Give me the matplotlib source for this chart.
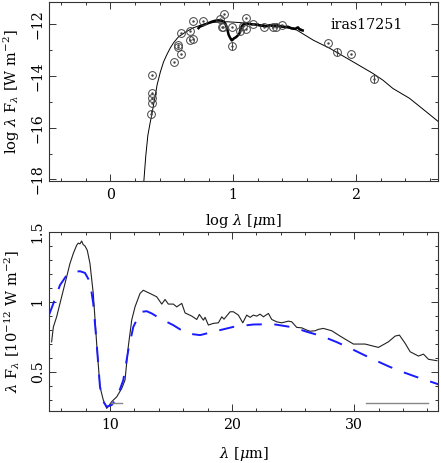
import numpy as np
import matplotlib
matplotlib.use('Agg')
import matplotlib.pyplot as plt
from matplotlib.ticker import MultipleLocator, FormatStrFormatter

plt.rcParams['font.family'] = 'DejaVu Serif'
plt.rcParams['mathtext.fontset'] = 'dejavuserif'
plt.rcParams['lines.scale_dashes'] = False

# photometry (log lambda [um], log lambda F_lambda [W m^-2])
phot_logl = [0.341, 0.341, 0.341, 0.341, 0.327, 0.521, 0.548, 0.548, 0.573, 0.573,
             0.646, 0.651, 0.670, 0.676, 0.754, 0.895, 0.921, 0.908, 0.916, 0.988,
             0.988, 1.105, 1.079, 1.057, 1.105, 1.160, 1.251, 1.327, 1.345, 1.395,
             1.773, 1.843, 1.955, 2.144]
phot_logf = [-13.96, -14.67, -14.84, -15.04, -15.46, -13.46, -12.80, -12.89, -13.16, -12.34,
             -12.26, -12.61, -12.58, -11.88, -11.86, -11.79, -11.60, -12.12, -12.09, -12.09,
             -12.85, -11.77, -12.05, -12.26, -12.19, -11.99, -12.10, -12.12, -12.12, -12.03,
             -12.71, -13.06, -13.15, -14.13]
# points drawn with a vertical bar through the circle
bar_logl = [0.327, 0.988, 1.843, 2.144]
bar_logf = [-15.46, -12.85, -13.06, -14.13]

# model SED
model_logl = [0.272, 0.288, 0.305, 0.322, 0.339, 0.352, 0.366, 0.380, 0.407, 0.433, 0.461,
              0.488, 0.515, 0.555, 0.596, 0.637, 0.677, 0.759, 0.85, 0.95, 1.05, 1.15,
              1.25, 1.35, 1.45, 1.517, 1.651, 1.787, 1.976, 2.138, 2.219, 2.300, 2.435,
              2.571, 2.68]
model_logf = [-18.1, -17.1, -16.3, -15.85, -15.45, -15.10, -14.74, -14.35, -13.84, -13.45, -13.16,
              -12.91, -12.71, -12.48, -12.35, -12.23, -12.13, -11.99, -11.92, -11.90, -11.93, -11.98,
              -12.03, -12.08, -12.15, -12.22, -12.61, -12.93, -13.45, -13.90, -14.16, -14.48, -14.86,
              -15.38, -15.80]

# ISO spectrum (lambda [um], lambda F_lambda [1e-12 W m^-2])
spec_lam = [5.22, 5.36, 5.63, 6.04, 6.45, 6.72, 6.99, 7.27, 7.40, 7.54, 7.68, 7.80, 7.95,
            8.14, 8.36, 8.63, 8.91, 9.18, 9.45, 9.73, 9.86, 10.14, 10.55, 10.96, 11.23,
            11.50, 11.78, 12.05, 12.46, 12.73, 13.01, 13.28, 13.83, 14.24, 14.51, 14.78,
            15.19, 15.47, 15.88, 16.15, 16.70, 17.11, 17.32, 17.65, 17.79, 18.06, 18.47,
            18.88, 19.16, 19.34, 19.84, 20.11, 20.52, 20.88, 21.20, 21.48, 21.75, 22.02,
            22.30, 22.57, 22.98, 23.25, 23.66, 24.07, 24.62, 24.89, 25.30, 25.71, 26.12,
            26.39, 26.80, 27.07, 27.48, 28.17, 28.85, 29.94, 30.90, 31.99, 32.81, 33.36,
            33.71, 34.18, 34.59, 35.27, 35.68, 36.09, 36.78]
spec_flux = [0.714, 0.82, 0.893, 1.036, 1.179, 1.274, 1.345, 1.405, 1.42, 1.415, 1.435, 1.41, 1.40,
             1.369, 1.274, 1.06, 0.70, 0.393, 0.298, 0.238, 0.25, 0.286, 0.32, 0.38, 0.44,
             0.68, 0.87, 0.964, 1.06, 1.083, 1.071, 1.06, 1.036, 0.984, 1.017, 0.984,
             0.984, 0.964, 0.989, 0.921, 0.898, 0.874, 0.91, 0.869, 0.889, 0.834, 0.846,
             0.85, 0.893, 0.876, 0.929, 0.929, 0.905, 0.85, 0.905, 0.889, 0.905, 0.898,
             0.912, 0.893, 0.917, 0.874, 0.857, 0.85, 0.862, 0.857, 0.817, 0.814, 0.798,
             0.79, 0.793, 0.803, 0.81, 0.793, 0.755, 0.698, 0.698, 0.674, 0.714, 0.755,
             0.762, 0.703, 0.643, 0.612, 0.626, 0.589, 0.579]

# model in the mid-IR
mod_lam = [5.0, 5.36, 5.90, 6.45, 6.99, 7.54, 7.95, 8.36, 8.63, 8.91, 9.18, 9.45, 9.73,
           10.14, 10.55, 11.09, 11.50, 11.91, 12.32, 12.60, 13.01, 13.42, 14.10, 15.19,
           16.28, 17.38, 18.47, 20.11, 21.75, 23.39, 25.03, 26.12, 27.35, 28.52, 29.61,
           30.71, 31.80, 32.89, 34.04, 35.19, 36.37, 36.9]
mod_flux = [0.905, 0.988, 1.119, 1.19, 1.214, 1.219, 1.207, 1.143, 0.988, 0.70, 0.393, 0.286, 0.25,
            0.262, 0.31, 0.44, 0.655, 0.821, 0.893, 0.929, 0.933, 0.917, 0.881, 0.833,
            0.774, 0.762, 0.786, 0.821, 0.838, 0.84, 0.817, 0.786, 0.755, 0.714, 0.671,
            0.624, 0.579, 0.536, 0.496, 0.46, 0.426, 0.41]

# grey horizontal segments
seg_x0 = [10.1, 30.98]
seg_x1 = [11.0, 36.03]
seg_y = [0.279, 0.279]

fig = plt.figure(figsize=(4.41, 4.63), dpi=100)
ax1 = fig.add_axes([0.111, 0.609, 0.883, 0.387])
ax2 = fig.add_axes([0.111, 0.112, 0.883, 0.387])


def style(ax, xmaj, xmin, ymaj, ymin):
    ax.xaxis.set_major_locator(MultipleLocator(xmaj))
    ax.xaxis.set_minor_locator(MultipleLocator(xmin))
    ax.yaxis.set_major_locator(MultipleLocator(ymaj))
    ax.yaxis.set_minor_locator(MultipleLocator(ymin))
    ax.xaxis.set_major_formatter(FormatStrFormatter('%g'))
    ax.yaxis.set_major_formatter(FormatStrFormatter('%g'))
    ax.tick_params(which='both', direction='in', top=True, right=True,
                   width=0.7, color='#333333', labelsize=10.2)
    ax.tick_params(which='major', length=5)
    ax.tick_params(which='minor', length=2.5)
    ax.tick_params(axis='x', pad=5)
    ax.tick_params(axis='y', pad=3)
    for lab in ax.get_yticklabels():
        lab.set_rotation(90)
        lab.set_va('center')
    for s in ax.spines.values():
        s.set_linewidth(0.8)
        s.set_color('#333333')


# top panel
ax1.plot(model_logl, model_logf, color='black', lw=0.7)
ax1.plot(np.log10(spec_lam), np.log10(np.array(spec_flux) * 1e-12), color='black', lw=1.8)
ax1.plot(phot_logl, phot_logf, 'o', mfc='none', mec='#444444', ms=5.6, mew=0.7)
ax1.plot(phot_logl, phot_logf, '.', color='#444444', ms=1.5)
ax1.plot(bar_logl, bar_logf, '|', color='#444444', ms=5.6, mew=0.7)
ax1.text(1.79, -12.02, 'iras17251', fontsize=10.3, va='center', ha='left')
ax1.set_xlim(-0.5, 2.67)
ax1.set_ylim(-18.06, -11.13)
style(ax1, 1, 0.2, 2, 1)
ax1.yaxis.set_major_formatter(FormatStrFormatter('\u2212%g'))
ax1.set_yticks([-18, -16, -14, -12])
ax1.set_yticklabels(['\u221218', '\u221216', '\u221214', '\u221212'])
for lab in ax1.get_yticklabels():
    lab.set_rotation(90)
    lab.set_va('center')
ax1.set_xlabel(r'log $\lambda$ [$\mu$m]', fontsize=10.5, labelpad=7)
ax1.set_ylabel(r'log $\lambda$ F$_\lambda$ [W m$^{-2}$]', fontsize=10.5, labelpad=6)

# bottom panel
ax2.plot(spec_lam, spec_flux, color='#222222', lw=0.8)
ax2.plot(mod_lam, mod_flux, color='#1a1aff', lw=1.4, dashes=(11, 9))
for a, b, y in zip(seg_x0, seg_x1, seg_y):
    ax2.plot([a, b], [y, y], color='#888888', lw=1.0)
ax2.set_xlim(5, 36.9)
ax2.set_ylim(0.218, 1.5)
style(ax2, 10, 2, 0.5, 0.1)
ax2.set_xlabel(r'$\lambda$ [$\mu$m]', fontsize=10.5, labelpad=9)
ax2.set_ylabel(r'$\lambda$ F$_\lambda$ [10$^{-12}$ W m$^{-2}$]', fontsize=10.5, labelpad=6)

fig.savefig('out.png', dpi=100)
